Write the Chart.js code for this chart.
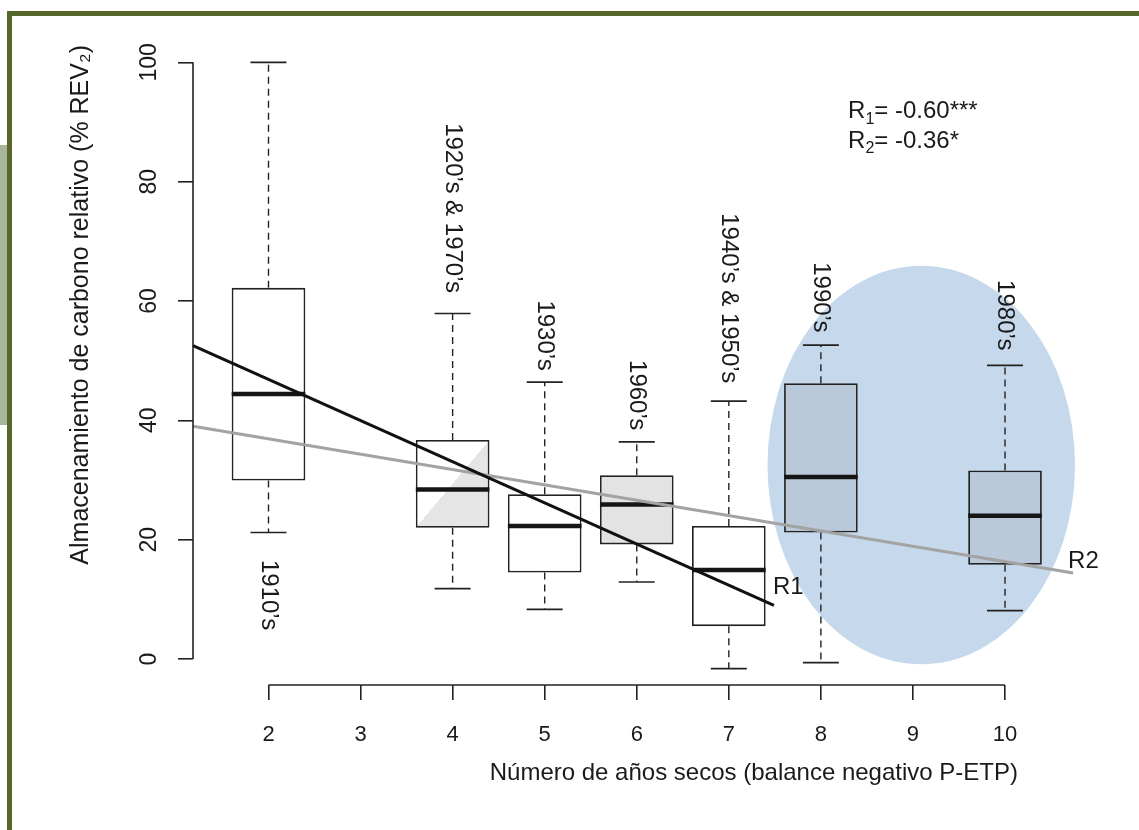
<!DOCTYPE html>
<html>
<head>
<meta charset="utf-8">
<script src="https://cdn.jsdelivr.net/npm/chart.js@4.4.0/dist/chart.umd.min.js"></script>
<style>
    body { margin: 0; background: #fff; }
    #wrap { position: relative; width: 1139px; height: 830px; }
    #wrap canvas { position: absolute; left: 0; top: 0; }
    .frame { position: absolute; background: #56692b; }
</style>
</head>
<body>
<div id="wrap">
    <div class="frame" style="left:7px;top:11px;width:1132px;height:5px"></div>
    <div class="frame" style="left:7px;top:11px;width:5px;height:819px"></div>
    <div style="position:absolute;left:0;top:145px;width:7px;height:280px;background:#a9b69b"></div>
    <canvas id="boxplot"></canvas>
</div>
<script>
// DATA
var dryYears = [2, 4, 5, 6, 7, 8, 10]
var whiskerLow = [21.2, 11.8, 8.3, 12.9, -1.6, -0.6, 8.1]
var quartile1 = [29.9, 22.0, 14.5, 19.2, 5.5, 21.2, 15.8]
var median = [44.4, 28.4, 22.3, 25.9, 14.9, 30.5, 24.0]
var quartile3 = [62.2, 36.7, 27.6, 30.8, 22.3, 46.2, 31.6]
var whiskerHigh = [100, 57.9, 46.4, 36.4, 43.2, 52.6, 49.2]
var decadeLabels = ["1910’s", "1920’s & 1970’s", "1930’s", "1960’s", "1940’s & 1950’s", "1990’s", "1980’s"]
var decadeLabelTop = [16.6, 89.8, 60.1, 50.1, 74.7, 66.5, 63.5]

var r1X = [1.18, 7.49]
var r1Y = [52.5, 9.0]
var r2X = [1.18, 10.74]
var r2Y = [39.0, 14.4]

var xTicks = [2, 3, 4, 5, 6, 7, 8, 9, 10]
var yTicks = [0, 20, 40, 60, 80, 100]

// styles / annotation placement
var boxFill = ["#ffffff", "diagonal", "#ffffff", "#e3e3e3", "#ffffff", "#b9c9d9", "#b9c9d9"]
var droughtZone = { x: 9.09, y: 32.5, rx: 1.67, ry: 33.4 }
var FONT = "'Liberation Sans', Arial, sans-serif"

Chart.defaults.font.family = FONT
Chart.defaults.color = "#1a1a1a"

function boxColor(c) {
    var kind = boxFill[c.dataIndex]
    if (kind === undefined) return "#ffffff"
    if (kind !== "diagonal") return kind
    var xs = c.chart.scales.x, ys = c.chart.scales.y
    if (!xs || !ys) return "#ffffff"
    var v = dryYears[c.dataIndex]
    var L = xs.getPixelForValue(v - 0.4), R = xs.getPixelForValue(v + 0.4)
    var T = ys.getPixelForValue(quartile3[c.dataIndex]), B = ys.getPixelForValue(quartile1[c.dataIndex])
    var W = R - L, H = B - T, cx = (L + R) / 2, cy = (T + B) / 2
    var len = Math.hypot(W, H), nx = H / len, ny = W / len, k = 80
    var g = c.chart.ctx.createLinearGradient(cx - nx * k, cy - ny * k, cx + nx * k, cy + ny * k)
    g.addColorStop(0, "#ffffff")
    g.addColorStop(0.5, "#ffffff")
    g.addColorStop(0.5, "#e5e5e5")
    g.addColorStop(1, "#e5e5e5")
    return g
}

var whiskerPoints = []
var capPoints = []
dryYears.forEach(function (x, i) {
    whiskerPoints.push({ x: x, y: quartile3[i] }, { x: x, y: whiskerHigh[i] }, { x: x, y: null })
    whiskerPoints.push({ x: x, y: quartile1[i] }, { x: x, y: whiskerLow[i] }, { x: x, y: null })
    capPoints.push({ x: x, y: whiskerHigh[i] }, { x: x, y: whiskerLow[i] })
})

function drawRotated(ctx, text, px, py, angle) {
    ctx.save()
    ctx.translate(px, py)
    ctx.rotate(angle)
    ctx.fillText(text, 0, 0)
    ctx.restore()
}

// R-like subscripted label, e.g. R1= ...
function drawSub(ctx, main, sub, rest, px, py) {
    ctx.font = "24px " + FONT
    ctx.fillText(main, px, py)
    var w = ctx.measureText(main).width
    ctx.font = "16px " + FONT
    ctx.fillText(sub, px + w, py + 8)
    w += ctx.measureText(sub).width
    ctx.font = "24px " + FONT
    ctx.fillText(rest, px + w, py)
}

var decor = {
    id: "decor",
    beforeDatasetsDraw: function (chart) {
        var ctx = chart.ctx, x = chart.scales.x, y = chart.scales.y
        var cx = x.getPixelForValue(droughtZone.x), cy = y.getPixelForValue(droughtZone.y)
        ctx.save()
        ctx.fillStyle = "#c6d9ec"
        ctx.beginPath()
        ctx.ellipse(cx, cy,
            x.getPixelForValue(droughtZone.x + droughtZone.rx) - cx,
            cy - y.getPixelForValue(droughtZone.y + droughtZone.ry), 0, 0, Math.PI * 2)
        ctx.fill()
        ctx.restore()
    },
    afterDatasetsDraw: function (chart) {
        var ctx = chart.ctx, x = chart.scales.x, y = chart.scales.y, area = chart.chartArea
        ctx.save()
        // R style axis lines (only between first and last tick)
        ctx.strokeStyle = "#222"
        ctx.lineWidth = 1.6
        ctx.beginPath()
        ctx.moveTo(x.getPixelForValue(xTicks[0]), area.bottom)
        ctx.lineTo(x.getPixelForValue(xTicks[xTicks.length - 1]), area.bottom)
        ctx.moveTo(area.left, y.getPixelForValue(yTicks[0]))
        ctx.lineTo(area.left, y.getPixelForValue(yTicks[yTicks.length - 1]))
        ctx.stroke()

        ctx.fillStyle = "#1a1a1a"
        ctx.font = "24px " + FONT
        ctx.textAlign = "left"
        ctx.textBaseline = "middle"
        decadeLabels.forEach(function (t, i) {
            drawRotated(ctx, t, x.getPixelForValue(dryYears[i]), y.getPixelForValue(decadeLabelTop[i]), Math.PI / 2)
        })

        ctx.font = "24px " + FONT
        ctx.fillText("R1", x.getPixelForValue(7.48), y.getPixelForValue(12.0))
        ctx.fillText("R2", x.getPixelForValue(10.685), y.getPixelForValue(16.4))

        drawSub(ctx, "R", "1", "= -0.60***", x.getPixelForValue(8.295), y.getPixelForValue(91.8))
        drawSub(ctx, "R", "2", "= -0.36*", x.getPixelForValue(8.295), y.getPixelForValue(86.8))
        ctx.restore()
    },
}

new Chart("boxplot", {
    type: "bar",
    data: {
        datasets: [
            {
                type: "line",
                label: "R1",
                data: r1X.map(function (v, i) { return { x: v, y: r1Y[i] } }),
                borderColor: "#111",
                borderWidth: 3,
                pointRadius: 0,
                clip: false,
                order: 0,
            },
            {
                type: "line",
                label: "R2",
                data: r2X.map(function (v, i) { return { x: v, y: r2Y[i] } }),
                borderColor: "#a3a3a3",
                borderWidth: 3,
                pointRadius: 0,
                clip: false,
                order: 1,
            },
            {
                type: "scatter",
                label: "mediana",
                data: dryYears.map(function (v, i) { return { x: v, y: median[i] } }),
                pointStyle: "line",
                pointRadius: 36.8,
                pointBorderWidth: 4.5,
                pointBorderColor: "#151515",
                clip: false,
                order: 2,
            },
            {
                type: "scatter",
                label: "extremos",
                data: capPoints,
                pointStyle: "line",
                pointRadius: 18,
                pointBorderWidth: 1.7,
                pointBorderColor: "#222",
                clip: false,
                order: 3,
            },
            {
                type: "line",
                label: "bigotes",
                data: whiskerPoints,
                borderColor: "#222",
                borderWidth: 1.4,
                borderDash: [7, 5],
                pointRadius: 0,
                spanGaps: false,
                clip: false,
                order: 4,
            },
            {
                type: "bar",
                label: "cajas",
                data: dryYears.map(function (v, i) { return { x: v, y: [quartile1[i], quartile3[i]] } }),
                backgroundColor: boxColor,
                borderColor: "#222",
                borderWidth: 1.8,
                borderSkipped: false,
                barPercentage: 0.8,
                categoryPercentage: 1,
                clip: false,
                order: 5,
            },
        ],
    },
    options: {
        responsive: true,
        maintainAspectRatio: false,
        animation: false,
        events: [],
        layout: { autoPadding: false, padding: { left: 66, top: 45, right: 121, bottom: 20 } },
        plugins: {
            legend: { display: false },
            tooltip: { enabled: false },
        },
        scales: {
            x: {
                type: "linear",
                min: 1.18,
                max: 10.141,
                offset: false,
                afterBuildTicks: function (s) { s.ticks = xTicks.map(function (v) { return { value: v } }) },
                afterFit: function (s) { s.height = 125 },
                border: { display: false },
                grid: { offset: false, drawOnChartArea: false, drawTicks: true, tickLength: 15, color: "#222", lineWidth: 1.6 },
                ticks: { autoSkip: false, padding: 22, maxRotation: 0, font: { size: 22 }, color: "#1a1a1a" },
                title: {
                    display: true,
                    text: "Número de años secos (balance negativo P-ETP)",
                    align: "end",
                    font: { size: 24 },
                    padding: { top: 0, bottom: 22 },
                    color: "#1a1a1a",
                },
            },
            y: {
                min: -4.36,
                max: 102.9,
                afterBuildTicks: function (s) { s.ticks = yTicks.map(function (v) { return { value: v } }) },
                afterFit: function (s) { s.width = 127 },
                border: { display: false },
                grid: { drawOnChartArea: false, drawTicks: true, tickLength: 15, color: "#222", lineWidth: 1.6 },
                ticks: { autoSkip: false, padding: 9, minRotation: 90, maxRotation: 90, crossAlign: "center", font: { size: 23 }, color: "#1a1a1a" },
                title: {
                    display: true,
                    text: "Almacenamiento de carbono relativo (% REV₂)",
                    align: "end",
                    font: { size: 25 },
                    padding: { top: 0, bottom: 0 },
                    color: "#1a1a1a",
                },
            },
        },
    },
    plugins: [decor],
})
</script>
</body>
</html>
